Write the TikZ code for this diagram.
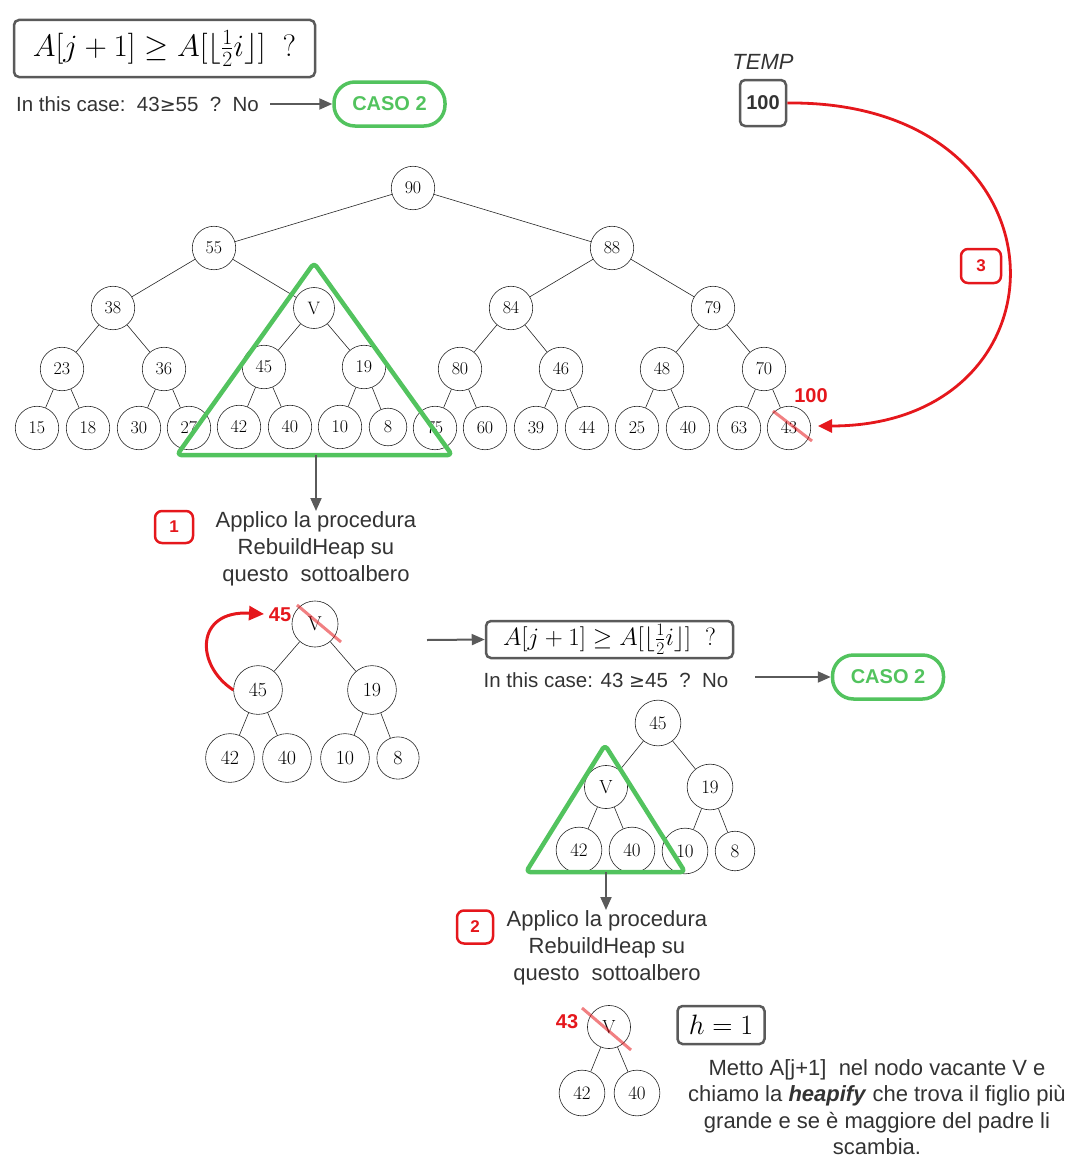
\RequirePackage{fix-cm}
\documentclass[tikz,border=0pt]{standalone}
\usepackage[no-math]{fontspec}
\setmainfont{Liberation Sans}
\newfontfamily\symfont{DejaVu Sans}
\newcommand{\gesign}{{\symfont\fontsize{19}{22}\selectfont ≥}}
\usetikzlibrary{arrows.meta}
\definecolor{hred}{HTML}{E5171C}
\definecolor{hgreen}{HTML}{52C35E}
\definecolor{hgray}{HTML}{5A5A5A}
\definecolor{htext}{HTML}{333333}
\tikzset{
  keyA/.style={circle, draw=black!85, line width=0.6pt, inner sep=8.3pt, font=\fontsize{18}{20}\selectfont},
  keyB/.style={keyA, inner sep=9.4pt, font=\fontsize{20}{22}\selectfont},
  keyC/.style={keyA, inner sep=8.7pt, font=\fontsize{19}{21}\selectfont},
  link/.style={draw=black!85, line width=0.6pt},
  formula/.style={draw=hgray, line width=2.5pt, rounded corners=5pt, fill=white},
  caso/.style={draw=hgreen, line width=3.5pt, rounded corners=21pt, minimum width=111pt, minimum height=44pt, text=hgreen, font=\bfseries\fontsize{20}{22}\selectfont},
  badge/.style={draw=hred, fill=white, line width=2.5pt, rounded corners=7pt, minimum width=38pt, minimum height=32pt, inner sep=0pt, text=hred, font=\bfseries\fontsize{17}{19}\selectfont},
  prose/.style={text=htext, font=\fontsize{20.5}{27}\selectfont, align=center, inner sep=0pt},
  steptext/.style={prose, font=\fontsize{22}{27}\selectfont},
  garrow/.style={draw=hgray, line width=2pt, -{Triangle[length=13pt,width=11pt]}},
  subtree/.style={draw=hgreen, line width=4.5pt, rounded corners=4pt, line join=round},
  strike/.style={draw=hred, opacity=0.55, line width=3pt},
  redlabel/.style={text=hred, inner sep=0pt, font=\bfseries\fontsize{20}{22}\selectfont},
}
\begin{document}
\begin{tikzpicture}[x=1pt,y=-1pt]
\useasboundingbox (0,0) rectangle (1086,1172);

% ---------- header question ----------
\node[formula, minimum width=301pt, minimum height=57pt, inner sep=0pt] (q1) at (164.5,48.5)
  {\fontsize{31}{34}\selectfont$A[j+1]\geq A[\lfloor\frac{1}{2}i\rfloor]\ \ ?$};
\node[prose, anchor=west] (c1txt) at (16,104) {In this case:\ \ 43\gesign55\ \ ?\ \ No};
\node[caso] (caso1) at (389.5,104) {CASO 2};
\coordinate (c1from) at (270,104);
\draw[garrow] (c1from) -- (caso1.west);

% ---------- temporary variable ----------
\node[text=htext, inner sep=0pt, font=\itshape\fontsize{22}{24}\selectfont] (templabel) at (763,62) {TEMP};
\node[formula, minimum width=46pt, minimum height=46pt, inner sep=0pt, text=htext,
      font=\bfseries\fontsize{20}{22}\selectfont] (temp) at (763,103) {100};

% ---------- full heap ----------
\node[keyA] (r)   at (413,188) {$90$};
\node[keyA] (a55) at (214,248) {$55$};
\node[keyA] (a88) at (612,248) {$88$};
\node[keyA] (b38) at (113,308) {$38$};
\node[keyA] (bV)  at (314,308) {$\mathrm{V}$};
\node[keyA] (b84) at (511,308) {$84$};
\node[keyA] (b79) at (713,308) {$79$};
\node[keyA] (c23) at (62,369)  {$23$};
\node[keyA] (c36) at (164,369) {$36$};
\node[keyA] (c45) at (264,367) {$45$};
\node[keyA] (c19) at (364,367) {$19$};
\node[keyA] (c80) at (460,369) {$80$};
\node[keyA] (c46) at (561,369) {$46$};
\node[keyA] (c48) at (662,369) {$48$};
\node[keyA] (c70) at (764,369) {$70$};
\node[keyA] (d15) at (37,428)  {$15$};
\node[keyA] (d18) at (88,428)  {$18$};
\node[keyA] (d30) at (139,428) {$30$};
\node[keyA] (d27) at (189,428) {$27$};
\node[keyA] (d42) at (239,427) {$42$};
\node[keyA] (d40) at (290,427) {$40$};
\node[keyA] (d10) at (340,427) {$10$};
\node[keyA] (d8)  at (388,427) {$8$};
\node[keyA] (d75) at (435,428) {$75$};
\node[keyA] (d60) at (485,428) {$60$};
\node[keyA] (d39) at (536,428) {$39$};
\node[keyA] (d44) at (587,428) {$44$};
\node[keyA] (d25) at (637,428) {$25$};
\node[keyA] (d40b) at (688,428) {$40$};
\node[keyA] (d63) at (739,428) {$63$};
\node[keyA] (d43) at (789,428) {$43$};
\foreach \p/\c in {r/a55, r/a88, a55/b38, a55/bV, a88/b84, a88/b79,
                   b38/c23, b38/c36, bV/c45, bV/c19, b84/c80, b84/c46, b79/c48, b79/c70,
                   c23/d15, c23/d18, c36/d30, c36/d27, c45/d42, c45/d40, c19/d10, c19/d8,
                   c80/d75, c80/d60, c46/d39, c46/d44, c48/d25, c48/d40b, c70/d63, c70/d43}
  \draw[link] (\p) -- (\c);

% last leaf replaced by the value in TEMP
\draw[strike] ([shift={(-16,-17)}]d43.center) -- ([shift={(23,13)}]d43.center);
\node[redlabel] (hundred) at (811,396) {100};
\coordinate (tip43) at (818,426);
\draw[hred, line width=2.8pt, -{Triangle[length=14pt,width=13pt]}]
  (temp.east) .. controls (1077,100) and (1077,426) .. (tip43);
\node[badge, minimum width=40pt, minimum height=34pt] (b3) at (981,266) {3};

% subtree rooted at V
\draw[subtree] (314,263) -- (452,455) -- (177,455) -- cycle;
\coordinate (tri1base) at (316,455);
\coordinate (step1top) at (316,511);
\draw[garrow] (tri1base) -- (step1top);
\node[badge] (b1) at (174,527) {1};
\node[steptext] (step1) at (316,549) {Applico la procedura\\RebuildHeap su\\questo\ \ sottoalbero};

% ---------- first RebuildHeap ----------
\node[keyB] (mV)  at (315,624) {$\mathrm{V}$};
\node[keyB] (m45) at (258,690) {$45$};
\node[keyB] (m19) at (372,690) {$19$};
\node[keyB] (m42) at (230,758) {$42$};
\node[keyB] (m40) at (287,758) {$40$};
\node[keyB] (m10) at (345,758) {$10$};
\node[keyB] (m8)  at (398,758) {$8$};
\foreach \p/\c in {mV/m45, mV/m19, m45/m42, m45/m40, m19/m10, m19/m8}
  \draw[link] (\p) -- (\c);
\draw[strike] ([shift={(-18,-19)}]mV.center) -- ([shift={(26,18)}]mV.center);
\node[redlabel] (l45) at (280,615) {45};
\coordinate (swaptip) at (264,614);
\draw[hred, line width=3pt, -{Triangle[length=15pt,width=14pt]}]
  (m45.west) .. controls (195,665) and (195,610) .. (swaptip);

\coordinate (mfrom) at (427,640);
\node[formula, minimum width=247pt, minimum height=37pt, inner sep=0pt] (q2) at (609.5,639.5)
  {\fontsize{25}{28}\selectfont$A[j+1]\geq A[\lfloor\frac{1}{2}i\rfloor]\ \ ?$};
\draw[garrow] (mfrom) -- (q2.west);
\node[prose] (c2txt) at (606,680) {In this case: 43 \gesign45\ \ ?\ \ No};
\node[caso] (caso2) at (888,677) {CASO 2};
\coordinate (c2from) at (755,677);
\draw[garrow] (c2from) -- (caso2.west);

% ---------- after the swap ----------
\node[keyC] (n45) at (658,723) {$45$};
\node[keyC] (nV)  at (606,787) {$\mathrm{V}$};
\node[keyC] (n19) at (710,787) {$19$};
\node[keyC] (n42) at (579,850) {$42$};
\node[keyC] (n40) at (632,850) {$40$};
\node[keyC] (n10) at (685,851) {$10$};
\node[keyC] (n8)  at (735,851) {$8$};
\foreach \p/\c in {n45/nV, n45/n19, nV/n42, nV/n40, n19/n10, n19/n8}
  \draw[link] (\p) -- (\c);
\draw[subtree] (605,745) -- (685,872) -- (526,872) -- cycle;
\coordinate (tri2base) at (606,872);
\coordinate (step2top) at (606,910);
\draw[garrow] (tri2base) -- (step2top);
\node[badge, minimum width=36pt, minimum height=33pt] (b2) at (475,927) {2};
\node[steptext] (step2) at (607,948) {Applico la procedura\\RebuildHeap su\\questo\ \ sottoalbero};

% ---------- second RebuildHeap (h = 1) ----------
\node[keyC] (bVv) at (609,1027) {$\mathrm{V}$};
\node[keyC] (b42) at (582,1093) {$42$};
\node[keyC] (b40) at (637,1093) {$40$};
\foreach \c in {b42, b40}
  \draw[link] (bVv) -- (\c);
\draw[strike] ([shift={(-27,-19)}]bVv.center) -- ([shift={(22,23)}]bVv.center);
\node[redlabel] (l43) at (567,1022) {43};
\node[formula, minimum width=87pt, minimum height=38pt, inner sep=0pt] (h1) at (721,1025)
  {\fontsize{28}{30}\selectfont$h=1$};
\node[prose, font=\fontsize{22}{26.5}\selectfont] (note) at (877,1107)
  {Metto A[j+1]\ \ nel nodo vacante V e\\chiamo la \textbf{\textit{heapify}} che trova il figlio più\\grande e se è maggiore del padre li\\scambia.};
\end{tikzpicture}
\end{document}
